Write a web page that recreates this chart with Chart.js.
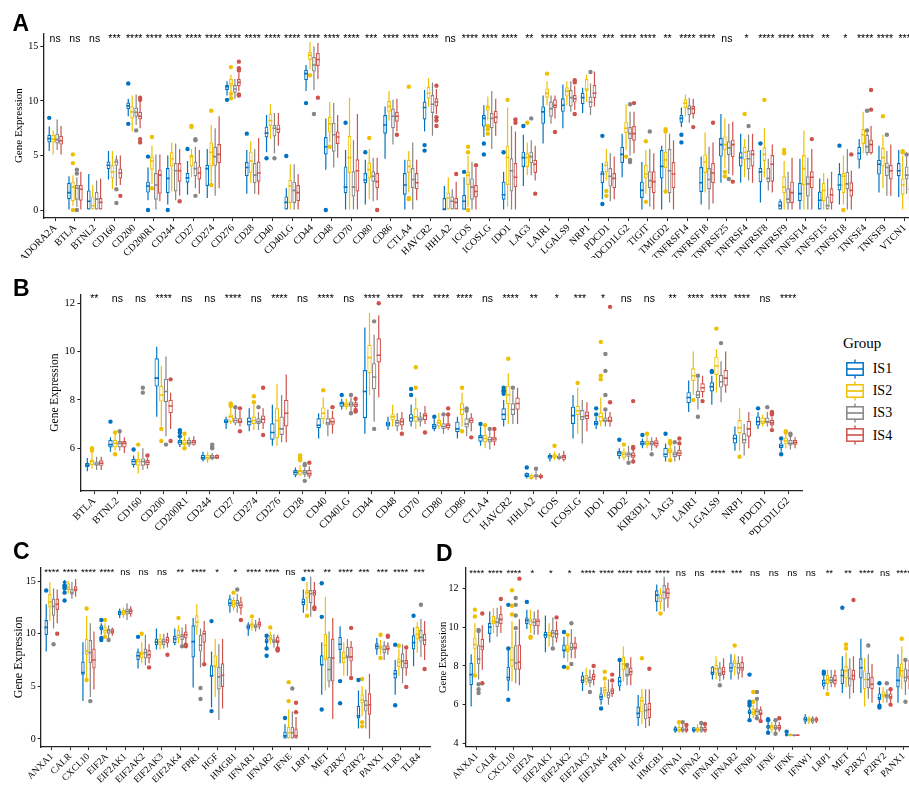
<!DOCTYPE html>
<html>
<head>
<meta charset="utf-8">
<script src="https://cdn.jsdelivr.net/npm/chart.js@4.4.1/dist/chart.umd.min.js"></script>
<style>
  html, body { margin: 0; padding: 0; background: #fff; }
  body { width: 909px; height: 786px; overflow: hidden; position: relative; }
  canvas { position: absolute; }
  .tag { position: absolute; font: bold 23px "Liberation Sans", Arial, sans-serif; line-height: 23px; color: #000; }
  .lg { position: absolute; font-family: "Liberation Serif", "Times New Roman", serif; color: #000; white-space: nowrap; }
</style>
</head>
<body>
<canvas id="cA" width="930" height="258" style="left:0;top:0"></canvas>
<canvas id="cB" width="815" height="275" style="left:0;top:260px"></canvas>
<canvas id="cC" width="440" height="251" style="left:0;top:535px"></canvas>
<canvas id="cD" width="490" height="251" style="left:430px;top:535px"></canvas>
<div class="tag" style="left:12.5px;top:12px">A</div>
<div class="tag" style="left:13px;top:277px">B</div>
<div class="tag" style="left:13px;top:540px">C</div>
<div class="tag" style="left:436px;top:542px">D</div>
<div id="legend"></div>
<script>
// ---------- groups ----------
const groups = ['IS1', 'IS2', 'IS3', 'IS4'];
const groupColors = ['#0073C2', '#EFC000', '#868686', '#CD534C'];

// ---------- panel A : immune checkpoint genes ----------
const catsA = ['ADORA2A','BTLA','BTNL2','CD160','CD200','CD200R1','CD244','CD27','CD274','CD276','CD28','CD40','CD40LG','CD44','CD48','CD70','CD80','CD86','CTLA4','HAVCR2','HHLA2','ICOS','ICOSLG','IDO1','LAG3','LAIR1','LGALS9','NRP1','PDCD1','PDCD1LG2','TIGIT','TMIGD2','TNFRSF14','TNFRSF18','TNFRSF25','TNFRSF4','TNFRSF8','TNFRSF9','TNFSF14','TNFSF15','TNFSF18','TNFSF4','TNFSF9','VTCN1'];
const sigA = ['ns','ns','ns','***','****','****','****','****','****','****','****','****','****','****','****','****','***','****','****','****','ns','****','****','****','**','****','****','****','***','****','****','**','****','****','ns','*','****','****','****','**','*','****','****','***'];
const yTicksA = [0, 5, 10, 15];
// box stats: [lower whisker, Q1, median, Q3, upper whisker]
const boxA_IS1 = [
  [5.4,6.2,6.55,6.9,7.65],[0,1.0,1.6,2.5,3.1],[0,0,0.8,1.8,3.3],[2.8,3.75,4.1,4.45,5.4],[8.6,9.25,9.55,9.85,10.2],
  [0.9,1.6,2.2,2.6,3.9],[0.5,1.55,2.9,3.85,5.0],[1.4,2.5,2.95,3.4,4.5],[1.1,2.2,3.8,4.15,5.6],[10.5,11.0,11.3,11.45,11.8],
  [1.5,3.1,3.9,4.4,5.5],[5.3,6.65,7.05,7.65,8.7],[0,0,0.7,1.25,2.0],[10.9,11.9,12.5,12.85,13.3],[3.7,5.1,5.8,6.7,8.4],
  [0,1.55,2.1,4.0,5.5],[0.5,2.45,2.75,3.4,4.6],[4.7,7.0,7.8,8.7,9.5],[0,1.4,2.3,3.4,4.6],[7.2,8.3,9.4,9.95,11.0],
  [0,0,0.05,1.1,2.2],[0,0.03,0.8,1.4,3.0],[6.7,7.65,8.4,8.7,9.6],[0,0.95,1.4,2.6,3.5],[2.2,3.95,4.8,5.35,6.9],
  [6.1,7.9,9.0,9.5,10.5],[7.5,9.0,9.6,10.25,11.5],[8.9,9.7,10.3,10.75,11.2],[1.0,2.45,3.3,3.55,4.3],[3.0,4.3,5.1,5.8,7.0],
  [0,1.1,1.8,2.6,4.4],[0,2.9,4.0,5.5,5.9],[7.6,8.0,8.4,8.7,9.4],[0.5,1.65,2.5,3.95,4.9],[2.5,4.9,6.0,6.6,8.8],
  [2.5,4.0,4.8,5.3,7.0],[0.7,2.55,3.5,3.85,5.5],[0,0,0.4,0.8,1.0],[0,0.8,1.5,2.5,4.7],[0,0,0.9,1.7,2.9],
  [0.5,1.8,2.3,3.3,4.3],[3.8,4.6,5.2,5.8,6.5],[1.6,3.25,4.2,4.6,5.9],[1.2,3.1,3.6,4.3,5.5]
];
const boxA_IS2 = [
  [5.1,6.2,6.5,6.9,7.3],[0.4,0.8,2.1,2.6,3.2],[0,0,0.4,1.25,2.3],[1.9,2.9,3.5,4.1,5.4],[7.2,8.4,9.0,9.5,10.5],
  [2.4,3.7,4.5,4.9,5.9],[1.7,4.0,4.7,5.3,6.2],[3.0,4.0,4.9,5.05,5.6],[2.5,4.0,5.3,6.2,7.8],[10.8,11.35,11.6,12.0,12.4],
  [2.5,3.4,4.5,5.35,6.3],[6.5,7.7,8.2,8.85,9.7],[0,0.65,2.2,2.75,4.2],[12.9,13.75,14.2,14.5,15.4],[6.2,7.1,7.9,8.55,9.9],
  [0,3.4,4.8,6.8,10.3],[1.0,2.9,3.7,4.35,5.6],[8.2,9.0,9.5,10.0,10.9],[1.6,3.4,4.0,4.6,5.4],[9.5,10.2,10.7,11.3,12.1],
  [0,0,1.1,1.6,3.0],[0.3,2.3,3.2,3.5,5.0],[8.2,9.1,9.4,9.6,10.4],[0.3,2.3,4.8,5.9,9.4],[3.2,3.95,4.8,5.2,6.2],
  [9.6,10.3,10.7,11.15,11.8],[9.6,10.4,10.9,11.25,11.8],[9.9,10.9,11.1,12.0,12.4],[2.7,3.45,4.1,4.45,5.6],[5.5,7.05,7.5,8.1,9.7],
  [1.5,2.9,3.3,4.15,5.5],[1.8,3.85,4.6,5.35,7.0],[8.6,9.35,9.8,10.15,10.6],[1.6,3.4,4.4,5.1,7.1],[3.8,5.5,6.0,6.75,8.4],
  [3.0,4.6,5.3,5.8,6.5],[3.0,4.5,5.1,5.75,7.5],[0,1.55,2.1,3.1,4.5],[0,2.3,3.8,5.05,7.3],[0,0.8,1.8,2.5,3.4],
  [0.5,1.55,3.1,3.4,5.0],[5.2,6.05,6.9,7.4,9.0],[2.0,4.0,4.8,5.7,6.9],[0,1.4,2.3,2.9,5.0]
];
const boxA_IS3 = [
  [5.5,6.1,6.45,7.0,8.3],[0.3,0.95,2.0,2.3,3.0],[0,0,1.0,1.65,2.7],[2.2,4.05,4.4,4.65,5.0],[7.8,8.55,8.95,9.4,10.6],
  [0,0.95,2.3,3.4,5.1],[0.9,1.7,3.6,4.3,6.1],[2.0,3.1,3.8,4.45,5.8],[1.3,4.05,4.9,5.8,7.5],[10.2,10.75,11.1,11.45,12.0],
  [1.5,2.45,3.2,4.3,5.6],[5.2,6.75,7.5,7.8,8.9],[0,0.65,1.8,2.6,4.2],[11.0,12.7,13.3,14.05,15.0],[3.9,5.35,6.9,8.0,9.8],
  [0,1.25,2.1,3.55,6.4],[0.8,2.6,3.1,3.55,4.8],[6.0,7.5,8.6,9.3,10.1],[0,2.0,2.8,3.85,6.2],[6.8,8.9,9.7,10.55,11.7],
  [0,0,0.8,1.25,1.9],[0,0.95,2.1,2.9,4.4],[5.6,7.5,8.4,8.9,10.9],[0,1.7,3.6,4.75,7.7],[3.2,4.3,4.9,5.35,6.4],
  [7.9,8.55,9.3,9.95,10.5],[9.0,9.5,10.3,11.0,11.8],[8.7,9.4,9.9,10.4,11.6],[0.8,2.15,3.1,3.85,5.2],[5.0,6.5,7.0,7.6,9.0],
  [0.3,2.0,2.7,3.55,5.6],[0.7,1.55,3.6,5.6,7.0],[8.0,8.7,9.3,9.6,10.3],[0,1.9,2.8,3.85,5.8],[3.3,5.05,5.7,6.3,7.9],
  [2.7,3.75,4.7,5.45,6.9],[1.8,2.55,2.9,3.85,4.7],[0,0.6,1.0,2.0,3.5],[0,1.25,2.4,3.1,4.8],[0,0,0.4,1.25,2.9],
  [0,1.9,2.4,3.5,5.6],[5.0,5.2,5.8,6.9,7.1],[1.3,3.1,3.9,4.35,5.4],[1.5,2.8,3.2,4.0,5.0]
];
const boxA_IS4 = [
  [5.1,6.0,6.35,6.8,7.7],[0,0.85,1.9,2.3,3.5],[0,0,0.7,1.1,2.9],[2.3,2.9,3.4,3.8,5.0],[7.5,8.3,8.6,9.0,10.0],
  [0.8,1.5,3.2,3.7,5.1],[1.3,2.6,3.6,4.3,5.6],[1.5,2.8,3.4,4.0,5.5],[2.0,4.3,5.1,6.05,8.6],[10.9,11.35,11.7,12.0,12.6],
  [1.4,2.6,3.4,4.45,6.6],[5.9,7.05,7.4,7.85,8.9],[0,0.8,1.6,2.3,3.3],[12.0,13.2,13.8,14.4,15.3],[4.8,6.05,6.7,7.2,8.7],
  [0,1.7,3.6,4.65,8.8],[0.9,2.0,2.6,3.4,4.8],[7.2,8.1,8.6,9.0,10.2],[0.9,1.9,2.5,3.4,4.6],[8.8,9.5,9.9,10.25,11.1],
  [0,0,0.7,1.1,2.6],[0,1.15,1.7,2.3,3.9],[6.8,7.95,8.5,9.1,10.2],[0,2.1,3.0,4.3,7.2],[2.7,3.4,4.2,4.6,5.9],
  [8.4,9.35,9.6,10.15,10.5],[9.2,9.85,10.2,10.55,11.4],[9.5,10.25,10.7,11.45,12.7],[1.0,2.0,2.9,3.4,4.9],[5.2,6.35,7.0,7.7,9.0],
  [0,1.55,2.6,3.55,5.2],[0,2.0,3.3,4.4,6.4],[8.4,8.8,9.3,9.55,10.2],[0.6,2.45,3.4,4.3,6.2],[3.2,4.85,6.0,6.45,8.1],
  [2.5,4.0,5.1,5.5,7.0],[1.6,2.6,4.2,5.05,6.0],[0,0.65,1.6,2.6,4.8],[0,2.0,3.0,3.55,5.6],[0,0.65,1.4,2.0,3.5],
  [0,1.25,1.8,2.55,3.6],[5.1,5.2,6.0,6.45,7.7],[1.3,2.8,3.6,4.15,6.0],[0.5,1.0,1.9,2.6,4.0]
];
// outlying samples: [gene, value]
const outA_IS1 = [['ADORA2A',8.45],['CD200',11.6],['CD200',7.9],['CD200R1',4.9],['CD200R1',0],['CD244',0],['CD27',5.6],['CD276',10.1],['CD28',7.0],['CD40',4.75],['CD40LG',4.95],['CD44',9.8],['CD48',0],['CD70',8.0],['CD80',5.3],['HAVCR2',5.95],['HAVCR2',5.45],['ICOS',3.5],['ICOSLG',6.1],['ICOSLG',5.1],['IDO1',5.3],['LAG3',7.7],['PDCD1',6.8],['PDCD1',0.55],['TNFRSF14',6.9],['TNFRSF14',6.2],['TNFRSF8',6.1],['TNFSF18',5.9]];
const outA_IS2 = [['BTLA',5.1],['BTLA',4.3],['BTLA',0],['CD200R1',6.7],['CD200R1',2.0],['CD27',7.7],['CD27',7.6],['CD274',9.1],['CD274',2.3],['CD276',13.1],['CD276',10.65],['CD276',10.25],['CD44',12.35],['CD48',5.8],['CD80',6.6],['CTLA4',11.3],['CTLA4',1.1],['CTLA4',1.0],['ICOS',5.8],['ICOS',5.3],['ICOS',0],['ICOSLG',7.7],['ICOSLG',7.4],['ICOSLG',7.0],['IDO1',10.1],['LAG3',8.0],['LAIR1',12.5],['PDCD1',1.75],['PDCD1',1.3],['PDCD1LG2',4.9],['TIGIT',6.3],['TIGIT',0.75],['TMIGD2',7.4],['TMIGD2',7.2],['TMIGD2',1.7],['TNFRSF25',3.5],['TNFRSF25',3.1],['TNFRSF4',8.8],['TNFRSF8',10.1],['TNFRSF9',5.5],['TNFRSF9',5.2],['TNFSF18',0],['TNFSF9',8.6],['VTCN1',5.4],['VTCN1',5.3]];
const outA_IS3 = [['BTLA',3.7],['BTLA',3.35],['BTLA',0],['CD160',1.9],['CD160',0.65],['CD200',7.3],['CD27',6.5],['CD27',6.4],['CD27',1.3],['CD40',4.75],['CD44',8.8],['LAG3',8.4],['NRP1',12.65],['PDCD1LG2',9.7],['PDCD1LG2',4.6],['PDCD1LG2',4.4],['TIGIT',7.2],['TNFRSF25',2.85],['TNFRSF4',7.7],['TNFSF4',9.1],['TNFSF4',7.3],['TNFSF9',6.9],['VTCN1',5.1]];
const outA_IS4 = [['CD160',1.3],['CD200',10.3],['CD200',10.1],['CD200',6.5],['CD200',6.2],['CD244',0.8],['CD276',13.6],['CD276',13.0],['CD276',12.8],['CD276',10.6],['CD276',10.5],['CD44',10.3],['CD80',0],['CD86',6.9],['HAVCR2',11.4],['HAVCR2',8.5],['HAVCR2',8.2],['HAVCR2',7.7],['HHLA2',3.3],['ICOS',4.1],['IDO1',8.3],['IDO1',8.0],['LAG3',1.5],['LAIR1',7.15],['LGALS9',11.9],['LGALS9',11.7],['LGALS9',8.8],['PDCD1LG2',9.8],['TNFRSF14',7.6],['TNFRSF18',8.0],['TNFRSF25',2.6],['TNFSF14',6.5],['TNFSF18',5.1],['TNFSF4',11.0],['TNFSF4',9.2]];

// ---------- panel B ----------
const catsB = ['BTLA','BTNL2','CD160','CD200','CD200R1','CD244','CD27','CD274','CD276','CD28','CD40','CD40LG','CD44','CD48','CD70','CD80','CD86','CTLA4','HAVCR2','HHLA2','ICOS','ICOSLG','IDO1','IDO2','KIR3DL1','LAG3','LAIR1','LGALS9','NRP1','PDCD1','PDCD1LG2'];
const sigB = ['**','ns','ns','****','ns','ns','****','ns','****','ns','****','ns','****','****','***','****','****','ns','****','**','*','***','*','ns','ns','**','****','****','****','ns','****'];
const yTicksB = [6, 8, 10, 12];
const boxB_IS1 = [
  [5.05,5.22,5.3,5.4,5.6],[5.85,6.03,6.15,6.34,6.45],[5.2,5.31,5.45,5.56,5.7],[7.3,8.55,8.9,9.72,10.2],[6.05,6.14,6.25,6.34,6.45],
  [5.45,5.52,5.6,5.72,5.85],[6.8,7.03,7.1,7.2,7.3],[6.7,6.94,7.1,7.27,7.65],[6.1,6.35,6.65,7.03,7.8],[4.8,4.87,5.0,5.1,5.2],
  [6.4,6.83,6.95,7.24,7.45],[7.6,7.72,7.85,7.93,8.05],[6.6,7.24,8.35,9.24,11.0],[6.75,6.9,7.0,7.1,7.3],[6.9,7.1,7.25,7.41,7.8],
  [6.7,6.8,6.9,7.0,7.2],[6.4,6.66,6.8,7.1,7.3],[6.1,6.27,6.45,6.55,6.9],[6.9,7.17,7.4,7.65,8.0],[4.75,4.8,4.88,4.97,5.0],
  [5.45,5.56,5.65,5.72,5.8],[6.4,7.0,7.35,7.72,8.2],[6.8,6.94,7.03,7.13,7.3],[5.55,5.68,5.8,5.89,6.0],[6.0,6.11,6.2,6.31,6.4],
  [5.45,5.62,5.75,6.02,6.2],[7.5,7.86,8.1,8.32,8.8],[7.8,8.35,8.55,8.73,9.0],[5.9,6.2,6.4,6.57,6.9],[6.8,6.94,7.1,7.31,7.5],
  [5.85,6.0,6.1,6.2,6.3]
];
const boxB_IS2 = [
  [5.15,5.31,5.45,5.52,5.8],[5.9,6.03,6.2,6.34,6.6],[4.95,5.28,5.45,5.56,5.85],[6.9,7.93,8.2,8.58,9.4],[6.05,6.11,6.2,6.34,6.5],
  [5.4,5.52,5.6,5.72,5.85],[7.0,7.1,7.3,7.4,7.7],[6.75,7.0,7.15,7.31,7.8],[6.1,6.41,7.15,7.65,8.65],[4.85,4.9,5.05,5.1,5.3],
  [7.0,7.2,7.45,7.69,8.1],[7.6,7.7,7.8,7.9,8.05],[8.2,9.1,9.75,10.28,11.6],[6.9,7.15,7.3,7.41,7.8],[6.8,7.1,7.3,7.65,8.1],
  [6.8,6.9,7.05,7.17,7.45],[6.9,7.38,7.6,7.86,8.3],[6.0,6.24,6.4,6.55,6.9],[7.0,7.82,8.2,8.59,9.1],[4.7,4.73,4.8,4.9,4.95],
  [5.5,5.59,5.68,5.75,5.85],[6.6,7.38,7.55,7.76,8.5],[6.9,7.1,7.3,7.48,8.1],[5.5,5.61,5.75,5.86,6.0],[6.0,6.11,6.2,6.31,6.5],
  [5.55,5.79,5.9,6.0,6.15],[8.2,8.78,9.0,9.31,10.0],[8.3,9.03,9.4,9.79,10.1],[5.9,6.62,6.85,7.17,7.65],[6.9,7.0,7.1,7.27,7.4],
  [6.0,6.16,6.3,6.44,6.6]
];
const boxB_IS3 = [
  [5.1,5.27,5.35,5.45,5.65],[5.9,6.03,6.2,6.3,6.65],[5.1,5.28,5.45,5.58,6.0],[6.5,7.9,8.35,8.87,9.8],[6.05,6.14,6.22,6.34,6.45],
  [5.5,5.55,5.62,5.72,5.8],[6.95,7.03,7.15,7.27,7.65],[6.75,7.0,7.1,7.24,7.5],[6.25,6.55,6.8,7.31,8.2],[4.8,4.9,5.0,5.1,5.2],
  [6.5,6.94,7.05,7.24,7.6],[7.5,7.72,7.82,7.93,8.1],[7.1,8.44,8.95,9.52,10.7],[6.7,6.9,7.05,7.17,7.45],[6.9,7.1,7.2,7.31,7.5],
  [6.6,6.8,6.9,7.03,7.3],[6.5,6.86,7.0,7.24,7.45],[5.95,6.24,6.35,6.48,6.75],[7.0,7.38,7.6,7.86,8.4],[4.7,4.8,4.85,4.92,5.05],
  [5.5,5.55,5.62,5.7,5.8],[6.2,7.17,7.3,7.58,8.0],[6.9,7.07,7.15,7.27,7.5],[5.5,5.65,5.75,5.83,6.1],[5.9,6.11,6.2,6.31,6.45],
  [5.45,5.64,5.75,5.86,6.1],[7.6,8.07,8.2,8.38,8.9],[7.9,8.51,8.75,9.03,9.6],[5.7,6.2,6.35,6.62,7.0],[6.9,7.03,7.1,7.27,7.5],
  [5.95,6.11,6.2,6.34,6.5]
];
const boxB_IS4 = [
  [5.1,5.27,5.38,5.5,5.65],[5.8,6.03,6.2,6.3,6.45],[5.15,5.31,5.42,5.52,5.6],[6.8,7.45,7.75,8.0,8.3],[6.1,6.14,6.25,6.34,6.5],
  [5.55,5.56,5.62,5.72,5.75],[6.9,7.03,7.1,7.24,7.55],[6.8,7.03,7.2,7.35,7.65],[6.25,6.9,7.45,8.0,9.05],[4.75,4.83,4.95,5.1,5.25],
  [6.6,6.97,7.1,7.27,7.55],[7.65,7.7,7.8,7.9,8.0],[8.1,9.55,9.85,10.55,11.5],[6.75,6.94,7.1,7.24,7.5],[7.0,7.17,7.35,7.45,7.75],
  [6.75,6.83,6.95,7.03,7.35],[6.7,7.03,7.15,7.27,7.45],[6.1,6.27,6.38,6.48,6.75],[7.0,7.59,7.85,8.1,8.5],[4.72,4.76,4.84,4.9,4.95],
  [5.45,5.52,5.63,5.72,5.9],[6.7,7.2,7.35,7.52,7.9],[6.9,7.07,7.15,7.31,7.5],[5.5,5.61,5.7,5.82,5.95],[6.0,6.07,6.2,6.33,6.45],
  [5.5,5.68,5.8,5.93,6.1],[8.1,8.32,8.5,8.69,9.0],[8.3,8.59,8.9,9.24,10.0],[6.0,6.48,6.8,7.13,7.5],[6.85,6.94,7.05,7.17,7.3],
  [6.0,6.14,6.23,6.34,6.45]
];
const outB_IS1 = [['BTNL2',7.1],['CD160',5.95],['CD200R1',6.75],['CD200R1',6.65],['CD200R1',6.5],['CD40LG',8.2],['CD70',8.45],['CD70',8.2],['CD80',7.3],['CTLA4',7.0],['HAVCR2',8.5],['HAVCR2',8.4],['HAVCR2',8.35],['HAVCR2',8.25],['HHLA2',5.2],['IDO1',7.65],['IDO1',7.4],['IDO2',6.35],['KIR3DL1',6.55],['LAG3',6.6],['LGALS9',9.2],['LGALS9',9.15],['PDCD1',7.65],['PDCD1LG2',6.4],['PDCD1LG2',5.75]];
const outB_IS2 = [['BTLA',6.0],['BTLA',5.95],['BTLA',5.9],['BTNL2',6.65],['BTNL2',5.75],['CD160',6.15],['CD200',6.8],['CD200',6.3],['CD200R1',6.6],['CD200R1',6.0],['CD27',7.85],['CD27',7.8],['CD27',7.75],['CD274',8.15],['CD274',7.9],['CD28',5.7],['CD28',5.6],['CD28',5.55],['CD28',5.5],['CD40',8.4],['CD70',9.35],['CD70',8.5],['CD86',8.5],['CD86',6.7],['CTLA4',6.95],['HAVCR2',9.7],['ICOS',6.1],['ICOSLG',8.7],['IDO1',10.4],['IDO1',9.0],['IDO1',8.85],['IDO2',6.15],['KIR3DL1',6.6],['LAG3',6.3],['LAG3',6.25],['LAG3',6.2],['LAG3',5.5],['LAIR1',8.0],['LGALS9',10.95],['NRP1',5.65],['PDCD1LG2',6.7],['PDCD1LG2',6.65]];
const outB_IS3 = [['BTNL2',6.7],['CD160',8.5],['CD160',8.3],['CD200',6.15],['CD244',6.15],['CD244',6.05],['CD244',6.0],['CD27',7.7],['CD274',7.7],['CD28',5.35],['CD28',5.3],['CD28',4.65],['CD40LG',8.2],['CD40LG',7.45],['CD44',11.25],['CD44',6.8],['CD80',7.4],['CD86',7.65],['CD86',7.55],['CTLA4',6.8],['HAVCR2',8.5],['HHLA2',5.15],['IDO1',9.9],['IDO1',9.2],['IDO1',8.2],['IDO1',7.6],['IDO2',5.4],['KIR3DL1',5.75],['LAG3',6.25],['LAIR1',9.0],['LAIR1',7.3],['LGALS9',10.35],['PDCD1',7.7],['PDCD1LG2',6.6],['PDCD1LG2',6.55]];
const outB_IS4 = [['CD160',5.7],['CD200',8.85],['CD200',6.3],['CD27',7.65],['CD27',6.7],['CD274',8.5],['CD274',6.55],['CD28',5.4],['CD40',7.7],['CD40LG',8.05],['CD40LG',7.58],['CD40LG',7.52],['CD44',12.0],['CD48',6.6],['CD70',6.65],['CD80',7.65],['CD80',7.4],['CD86',6.45],['CTLA4',6.8],['IDO1',11.85],['IDO1',7.9],['IDO2',7.95],['IDO2',6.05],['IDO2',6.0],['IDO2',5.45],['LAG3',6.4],['LAG3',6.2],['LAIR1',7.95],['PDCD1',7.5],['PDCD1',7.45],['PDCD1',7.4],['PDCD1',6.75]];

// ---------- panel C ----------
const catsC = ['ANXA1','CALR','CXCL10','EIF2A','EIF2AK1','EIF2AK2','EIF2AK3','EIF2AK4','FPR1','HGF','HMGB1','IFNAR1','IFNAR2','IFNE','LRP1','MET','P2RX7','P2RY2','PANX1','TLR3','TLR4'];
const sigC = ['****','****','****','****','ns','ns','ns','**','****','*','*','****','****','ns','***','**','****','***','***','****','***'];
const yTicksC = [0, 5, 10, 15];
const boxC_IS1 = [
  [8.3,9.87,10.6,11.3,12.8],[14.7,14.8,14.9,15.0,15.1],[3.6,6.1,6.3,7.35,9.2],[9.9,10.35,10.55,10.8,11.0],[11.5,11.75,12.0,12.2,12.4],
  [6.7,7.5,7.9,8.3,8.6],[8.5,8.9,9.2,9.55,10.5],[8.9,9.1,9.5,9.8,10.5],[4.9,7.75,9.25,10.8,11.5],[3.0,5.95,6.0,7.0,8.3],
  [12.0,12.6,12.9,13.35,13.7],[9.8,10.4,10.65,10.9,11.1],[8.5,9.1,9.3,9.55,9.7],[0,0,0.3,0.7,1.4],[12.0,12.7,13.0,13.35,14.2],
  [4.2,7.0,7.05,7.95,9.2],[7.2,8.45,9.0,9.7,10.7],[1.0,1.95,2.2,3.15,4.6],[8.0,8.5,8.8,9.1,9.6],[4.2,5.75,6.2,6.55,7.5],
  [6.9,8.5,9.15,9.85,10.6]
];
const boxC_IS2 = [
  [11.2,12.5,13.0,13.8,14.9],[13.8,14.15,14.4,14.8,15.0],[5.8,8.0,8.35,9.55,11.7],[9.8,10.0,10.3,10.65,11.0],[11.5,11.75,12.0,12.25,12.5],
  [7.2,7.65,8.1,8.3,9.2],[8.5,8.9,9.2,9.55,10.0],[9.1,9.55,9.85,10.35,10.8],[9.9,10.6,11.1,11.75,12.8],[4.0,6.85,6.9,7.95,9.5],
  [12.2,12.5,12.8,13.2,13.5],[10.3,10.6,10.85,11.05,11.4],[9.0,9.4,9.6,9.9,10.2],[0,0,0.6,1.15,2.8],[12.2,13.35,13.9,14.15,14.9],
  [4.6,7.5,8.9,10.0,13.5],[6.0,7.2,7.7,8.3,9.2],[2.2,3.4,3.7,4.25,5.0],[8.0,8.5,8.7,8.9,9.4],[6.0,6.85,7.3,7.65,8.6],
  [8.2,9.45,9.95,10.65,11.1]
];
const boxC_IS3 = [
  [10.5,11.7,12.6,13.35,14.3],[13.3,13.7,13.9,14.25,14.9],[4.0,7.2,8.2,9.4,11.0],[9.6,10.0,10.3,10.5,10.8],[11.3,11.8,12.1,12.4,12.9],
  [7.0,7.65,8.2,8.6,9.9],[8.6,8.9,9.25,9.55,10.0],[8.9,9.4,9.75,10.0,10.6],[6.8,8.3,8.9,9.9,10.5],[1.8,4.7,5.9,6.85,9.0],
  [12.0,12.6,12.9,13.2,13.8],[10.2,10.5,10.7,10.9,11.3],[8.7,9.1,9.3,9.55,9.95],[0,0,0.6,1.15,2.6],[11.6,12.9,13.8,14.15,15.4],
  [4.9,5.45,6.6,7.8,10.2],[6.0,7.65,7.85,8.75,9.5],[1.0,2.6,3.2,3.7,4.7],[7.5,8.15,8.5,8.9,9.3],[5.3,6.7,7.4,8.15,9.0],
  [7.8,9.25,9.65,10.35,11.4]
];
const boxC_IS4 = [
  [11.0,12.25,12.8,13.35,14.2],[13.5,14.0,14.2,14.5,15.2],[4.7,6.7,7.5,8.6,10.2],[9.8,10.0,10.2,10.45,10.6],[11.6,11.85,12.15,12.4,12.6],
  [7.2,7.65,8.0,8.45,9.0],[8.7,9.1,9.4,9.7,10.1],[9.0,9.55,9.9,10.2,10.9],[7.3,9.15,10.0,10.3,11.2],[2.9,4.95,6.05,7.2,9.5],
  [11.8,12.4,12.7,13.05,13.5],[10.4,10.65,10.9,11.15,11.5],[8.7,9.1,9.3,9.7,9.9],[0,0,0.3,1.0,2.1],[12.6,13.6,13.9,14.15,14.9],
  [1.9,5.45,7.7,9.55,11.5],[6.0,7.35,7.8,8.75,9.3],[0,2.3,3.25,4.35,6.2],[8.0,8.45,8.6,8.9,9.2],[6.0,6.7,7.2,7.5,8.5],
  [7.5,8.9,9.4,10.0,11.2]
];
const outC_IS1 = [['ANXA1',14.1],['CALR',14.6],['CALR',14.45],['CALR',14.3],['CALR',13.9],['CALR',13.15],['EIF2A',11.3],['EIF2A',9.6],['EIF2A',9.4],['EIF2AK2',9.7],['HGF',11.2],['HGF',2.65],['IFNAR2',9.8],['IFNAR2',8.6],['IFNAR2',7.9],['IFNE',2.0],['LRP1',15.2],['MET',14.8],['MET',11.6],['MET',2.8],['P2RX7',5.5],['P2RX7',3.4],['P2RY2',5.6],['TLR3',8.95],['TLR3',3.2],['TLR4',11.7]];
const outC_IS2 = [['CXCL10',12.4],['CXCL10',5.6],['EIF2A',11.3],['EIF2A',9.7],['EIF2AK2',10.0],['EIF2AK4',11.5],['HMGB1',13.9],['IFNAR1',11.65],['IFNAR2',10.6],['IFNE',5.4],['IFNE',3.6],['LRP1',11.7],['P2RY2',5.7],['P2RY2',1.6],['P2RY2',1.2],['PANX1',9.9],['PANX1',7.7],['TLR3',8.85]];
const outC_IS3 = [['ANXA1',9.0],['CXCL10',3.6],['EIF2A',9.4],['EIF2AK4',8.8],['FPR1',4.85],['FPR1',3.8],['HMGB1',14.2],['IFNE',4.8],['TLR4',12.75]];
const outC_IS4 = [['ANXA1',10.0],['EIF2AK2',6.8],['EIF2AK3',8.0],['EIF2AK4',8.8],['EIF2AK4',8.95],['FPR1',7.1],['HMGB1',11.3],['IFNAR2',8.6],['IFNAR2',8.5],['IFNAR2',8.4],['IFNE',3.45],['IFNE',2.55],['LRP1',12.5],['LRP1',12.35],['P2RX7',10.55],['P2RX7',5.8],['PANX1',9.8],['PANX1',9.7],['TLR3',8.7],['TLR3',4.95],['TLR4',6.65]];

// ---------- panel D ----------
const catsD = ['ANXA1','CALR','CXCL10','EIF2A','EIF2AK1','EIF2AK2','EIF2AK3','EIF2AK4','FPR1','HGF','HMGB1','IFNA1','IFNA2','IFNAR1','IFNAR2','IFNB1','IFNE','IFNK','IFNW1','LRP1','MET','P2RX7','P2RY2','PANX1'];
const sigD = ['****','****','****','*','*','*','****','****','****','****','****','ns','ns','****','***','ns','ns','ns','ns','**','**','****','ns','****'];
const yTicksD = [4, 6, 8, 10, 12];
const boxD_IS1 = [
  [5.9,7.0,7.55,8.16,8.6],[9.2,9.65,10.0,10.22,10.8],[6.7,7.23,7.4,7.96,8.8],[9.9,10.16,10.35,10.5,10.9],[8.7,9.42,9.6,9.76,10.6],
  [8.4,8.75,8.8,9.1,9.5],[6.7,7.1,7.25,7.5,7.7],[6.0,6.24,6.4,6.58,6.9],[6.7,6.93,7.2,7.44,8.2],[4.9,5.3,5.55,5.9,6.5],
  [10.8,11.3,11.65,11.9,12.2],[4.55,4.6,4.72,4.83,4.9],[4.55,4.6,4.7,4.83,4.85],[7.3,7.53,7.65,7.96,8.0],[7.3,7.7,7.9,8.18,8.6],
  [5.3,5.5,5.6,5.75,5.85],[4.65,4.75,4.85,4.95,5.1],[4.35,4.4,4.45,4.5,4.52],[5.0,5.12,5.25,5.38,5.5],[6.8,6.93,7.1,7.3,7.5],
  [6.6,7.06,7.5,7.82,8.5],[6.6,7.35,7.9,8.39,9.4],[6.0,6.24,6.35,6.58,6.9],[6.1,6.89,7.25,7.96,8.6]
];
const boxD_IS2 = [
  [7.6,8.85,9.1,9.47,10.2],[9.7,10.16,10.3,10.57,11.0],[7.2,7.96,8.3,8.99,10.3],[9.7,10.1,10.3,10.45,10.9],[9.0,9.47,9.6,9.76,10.2],
  [8.2,8.7,8.85,9.1,9.5],[7.0,7.15,7.35,7.53,7.9],[6.4,6.58,6.75,6.92,7.2],[7.2,7.78,8.1,8.47,9.0],[5.0,5.6,6.2,6.4,6.8],
  [10.9,11.28,11.5,11.7,12.0],[4.55,4.6,4.7,4.86,5.0],[4.55,4.6,4.7,4.83,5.0],[7.3,7.6,7.85,8.04,8.5],[7.5,7.92,8.15,8.3,8.6],
  [5.3,5.46,5.6,5.8,6.0],[4.55,4.7,4.85,4.95,5.1],[4.35,4.38,4.45,4.5,4.52],[5.0,5.12,5.22,5.34,5.4],[6.7,7.06,7.3,7.53,7.8],
  [6.9,7.35,7.75,7.99,8.7],[5.9,6.8,7.3,7.78,8.4],[6.1,6.37,6.5,6.67,6.9],[6.8,7.44,7.75,8.13,9.0]
];
const boxD_IS3 = [
  [7.3,8.08,8.35,9.07,9.7],[9.5,10.0,10.25,10.5,11.0],[7.1,7.8,8.15,9.07,9.8],[9.6,10.05,10.25,10.45,10.8],[9.0,9.47,9.7,9.85,10.5],
  [8.4,8.8,8.95,9.2,9.9],[6.9,7.1,7.25,7.44,7.8],[6.0,6.32,6.5,6.67,7.3],[7.0,7.44,7.55,7.96,8.0],[4.8,5.24,5.7,6.06,6.8],
  [10.8,11.43,11.8,12.17,12.6],[4.55,4.6,4.7,4.83,5.0],[4.55,4.6,4.72,4.86,5.0],[7.2,7.48,7.6,7.92,8.2],[7.3,7.6,7.9,8.16,8.5],
  [5.35,5.41,5.65,5.8,6.2],[4.55,4.7,4.8,4.95,5.1],[4.35,4.38,4.42,4.46,4.48],[5.0,5.07,5.2,5.34,5.4],[6.9,7.1,7.25,7.44,7.8],
  [6.3,6.93,7.35,7.87,8.4],[6.3,6.85,7.3,7.65,8.6],[6.1,6.32,6.45,6.58,6.8],[6.5,7.18,7.4,7.87,8.2]
];
const boxD_IS4 = [
  [7.8,8.8,9.0,9.4,10.1],[9.7,10.15,10.4,10.68,11.1],[7.0,7.8,8.2,9.1,10.4],[9.6,10.05,10.3,10.45,10.9],[9.2,9.42,9.65,9.85,10.3],
  [8.4,8.85,8.95,9.2,9.5],[7.0,7.27,7.45,7.6,7.8],[6.4,6.55,6.7,6.84,7.1],[7.0,7.5,7.7,7.92,8.45],[4.9,5.3,5.75,6.1,6.8],
  [11.0,11.48,11.75,12.0,12.3],[4.55,4.6,4.7,4.83,4.85],[4.55,4.6,4.7,4.86,4.9],[7.3,7.53,7.7,7.96,8.4],[7.4,7.75,7.9,8.2,8.5],
  [5.25,5.46,5.55,5.75,5.9],[4.6,4.7,4.8,4.95,5.1],[4.38,4.39,4.42,4.46,4.47],[5.05,5.12,5.22,5.34,5.38],[6.9,7.06,7.25,7.53,7.8],
  [6.6,7.25,7.5,7.8,8.5],[6.1,6.8,7.05,7.44,8.1],[6.1,6.27,6.4,6.58,6.75],[6.8,7.3,7.45,7.8,8.3]
];
const outD_IS1 = [['CXCL10',11.15],['CXCL10',8.9],['CXCL10',6.25],['EIF2A',11.3],['EIF2AK2',9.75],['EIF2AK2',7.95],['EIF2AK4',5.8],['FPR1',8.3],['IFNB1',7.55],['IFNB1',6.15],['IFNB1',6.05],['IFNB1',5.95],['IFNB1',5.2],['IFNE',5.25],['IFNE',5.2],['IFNE',4.55],['IFNK',4.6],['LRP1',7.7],['LRP1',7.6],['MET',11.0],['P2RY2',7.1],['P2RY2',5.95],['P2RY2',5.85]];
const outD_IS2 = [['ANXA1',10.9],['ANXA1',10.55],['ANXA1',7.5],['CXCL10',11.9],['CXCL10',11.1],['CXCL10',10.65],['EIF2A',9.5],['EIF2A',9.45],['EIF2AK2',9.6],['EIF2AK2',7.9],['EIF2AK4',7.7],['EIF2AK4',7.35],['HGF',8.4],['HMGB1',10.7],['IFNA1',5.1],['IFNAR2',9.05],['IFNB1',6.65],['IFNB1',6.15],['LRP1',6.55],['MET',9.1],['MET',8.9],['PANX1',9.4]];
const outD_IS3 = [['ANXA1',9.85],['ANXA1',9.8],['ANXA1',7.05],['ANXA1',6.8],['ANXA1',6.6],['CXCL10',11.5],['CXCL10',11.15],['CXCL10',10.6],['CXCL10',9.95],['EIF2AK1',8.9],['EIF2AK2',10.2],['EIF2AK2',8.1],['EIF2AK3',6.65],['FPR1',8.05],['IFNA1',5.1],['IFNA2',5.05],['IFNAR1',7.0],['IFNB1',6.65],['IFNB1',6.3],['IFNB1',5.3],['IFNE',5.2],['IFNE',4.5],['P2RX7',9.05],['P2RY2',7.1],['PANX1',8.3],['PANX1',6.15]];
const outD_IS4 = [['ANXA1',10.7],['ANXA1',7.1],['CALR',11.45],['CXCL10',12.5],['EIF2AK1',10.5],['EIF2AK3',8.0],['EIF2AK4',7.55],['EIF2AK4',7.25],['HGF',7.85],['IFNA1',4.95],['IFNA2',5.0],['IFNB1',5.15],['IFNE',5.3],['MET',11.4],['P2RY2',6.8],['P2RY2',6.0]];

// ---------- drawing ----------
const serif = '"Liberation Serif", "Times New Roman", serif';
const sans = '"Liberation Sans", Arial, sans-serif';
const dodge = [-0.3, -0.1, 0.1, 0.3];

// significance stars written along the top of each panel
const sigPlugin = {
  id: 'sigLabels',
  afterDatasetsDraw(chart, args, opts) {
    if (!opts.labels) return;
    const { ctx, scales: { x, y } } = chart;
    ctx.save();
    ctx.font = opts.size + 'px ' + sans;
    ctx.fillStyle = '#000';
    ctx.textAlign = 'center';
    ctx.textBaseline = 'alphabetic';
    opts.labels.forEach((t, i) => ctx.fillText(t, x.getPixelForValue(i), y.getPixelForValue(opts.y)));
    ctx.restore();
  }
};

function medianRadius(c) {
  const xs = c.chart.scales.x;
  return 0.095 * Math.abs(xs.getPixelForValue(1) - xs.getPixelForValue(0));
}

function makePanel(id, p) {
  const datasets = [];
  groups.forEach((g, gi) => {
    const col = groupColors[gi];
    const stats = p.boxes[gi];
    const pos = i => i + dodge[gi];
    const barCommon = { grouped: false, categoryPercentage: 1, barPercentage: 0.95 };
    datasets.push(Object.assign({
      type: 'bar', label: g + ' whiskers', order: 4,
      data: stats.map((s, i) => ({ x: pos(i), y: [s[0], s[4]] })),
      backgroundColor: col, borderWidth: 0, maxBarThickness: 1.2
    }, barCommon));
    datasets.push(Object.assign({
      type: 'bar', label: g, order: 3,
      data: stats.map((s, i) => ({ x: pos(i), y: [s[1], s[3]] })),
      backgroundColor: '#ffffff', borderColor: col, borderWidth: 1.2, borderSkipped: false
    }, barCommon));
    datasets.push({
      type: 'scatter', label: g + ' median', order: 2,
      data: stats.map((s, i) => ({ x: pos(i), y: s[2] })),
      pointStyle: 'line', pointRadius: medianRadius,
      pointBorderColor: col, pointBorderWidth: 1.6, borderColor: col
    });
    datasets.push({
      type: 'scatter', label: g + ' outliers', order: 1,
      data: p.outs[gi].map(([c, v]) => ({ x: pos(p.cats.indexOf(c)), y: v })),
      pointStyle: 'circle', pointRadius: 2.2,
      pointBackgroundColor: col, pointBorderWidth: 0, backgroundColor: col
    });
  });

  const axisLine = { display: true, color: '#222', width: 1.3 };
  const tickGrid = { display: true, drawOnChartArea: false, drawTicks: true, tickLength: 3, tickColor: '#222', lineWidth: 1, offset: false };

  return new Chart(document.getElementById(id), {
    type: 'bar',
    data: { datasets },
    plugins: [sigPlugin],
    options: {
      responsive: false, animation: false, events: [], devicePixelRatio: 1,
      layout: { padding: { left: 0, top: p.top, right: p.right, bottom: 0 } },
      plugins: {
        legend: { display: false }, tooltip: { enabled: false },
        sigLabels: { labels: p.sig, y: p.sigY, size: p.sigSize }
      },
      scales: {
        x: {
          type: 'linear', min: -0.6, max: p.cats.length - 0.4, offset: false, bounds: 'data',
          afterBuildTicks: s => { s.ticks = p.cats.map((_, i) => ({ value: i })); },
          afterFit: s => { s.height = p.xAxisH; },
          ticks: {
            autoSkip: false, minRotation: 45, maxRotation: 45, padding: 1, color: '#000',
            font: { family: serif, size: p.xTick },
            callback: v => p.cats[Math.round(v)]
          },
          grid: tickGrid, border: axisLine
        },
        y: {
          type: 'linear', min: p.yMin, max: p.yMax, bounds: 'data', beginAtZero: false,
          afterBuildTicks: s => { s.ticks = p.yTicks.map(v => ({ value: v })); },
          afterFit: s => { s.width = p.yAxisW; },
          ticks: { padding: p.yPad, color: '#000', font: { family: serif, size: p.yTick } },
          grid: tickGrid, border: axisLine,
          title: {
            display: true, text: 'Gene Expression', color: '#000',
            font: { family: serif, size: p.titleSize }, padding: { top: p.titlePad, bottom: 0 }
          }
        }
      }
    }
  });
}

makePanel('cA', {
  cats: catsA, sig: sigA, yTicks: yTicksA,
  boxes: [boxA_IS1, boxA_IS2, boxA_IS3, boxA_IS4], outs: [outA_IS1, outA_IS2, outA_IS3, outA_IS4],
  yMin: -0.73, yMax: 16.2, top: 33.3, right: 13.5, yAxisW: 43.3, xAxisH: 40,
  xTick: 10, yTick: 10, yPad: 2, titleSize: 11, titlePad: 12.4, sigY: 15.42, sigSize: 10.5
});
makePanel('cB', {
  cats: catsB, sig: sigB, yTicks: yTicksB,
  boxes: [boxB_IS1, boxB_IS2, boxB_IS3, boxB_IS4], outs: [outB_IS1, outB_IS2, outB_IS3, outB_IS4],
  yMin: 4.23, yMax: 12.37, top: 34.3, right: 13, yAxisW: 80.4, xAxisH: 44,
  xTick: 10.5, yTick: 10.5, yPad: 2.5, titleSize: 11.5, titlePad: 48, sigY: 12.05, sigSize: 10.5
});
makePanel('cC', {
  cats: catsC, sig: sigC, yTicks: yTicksC,
  boxes: [boxC_IS1, boxC_IS2, boxC_IS3, boxC_IS4], outs: [outC_IS1, outC_IS2, outC_IS3, outC_IS4],
  yMin: -0.76, yMax: 16.27, top: 32.7, right: 9.9, yAxisW: 40.7, xAxisH: 39,
  xTick: 9.5, yTick: 10, yPad: 2, titleSize: 12, titlePad: 12, sigY: 15.53, sigSize: 9.5
});
makePanel('cD', {
  cats: catsD, sig: sigD, yTicks: yTicksD,
  boxes: [boxD_IS1, boxD_IS2, boxD_IS3, boxD_IS4], outs: [outD_IS1, outD_IS2, outD_IS3, outD_IS4],
  yMin: 3.83, yMax: 13.05, top: 33, right: 5.3, yAxisW: 35.6, xAxisH: 39.3,
  xTick: 9.5, yTick: 10, yPad: 4, titleSize: 10.5, titlePad: 6.5, sigY: 12.66, sigSize: 9.5
});

// ---------- group legend ----------
(function buildLegend() {
  const host = document.getElementById('legend');
  const title = document.createElement('div');
  title.className = 'lg';
  title.style.cssText = 'left:843px;top:335.8px;font-size:15px;line-height:15px;';
  title.textContent = 'Group';
  host.appendChild(title);
  groups.forEach((g, i) => {
    const cy = 368.7 + i * 22.2;
    const svgNS = 'http://www.w3.org/2000/svg';
    const svg = document.createElementNS(svgNS, 'svg');
    svg.setAttribute('width', '22'); svg.setAttribute('height', '22');
    svg.style.cssText = 'position:absolute;left:843.5px;top:' + (cy - 11) + 'px;';
    const col = groupColors[i];
    svg.innerHTML =
      '<line x1="11" y1="1.5" x2="11" y2="4.8" stroke="' + col + '" stroke-width="1.4"/>' +
      '<line x1="11" y1="17.2" x2="11" y2="20.5" stroke="' + col + '" stroke-width="1.4"/>' +
      '<rect x="2.8" y="4.8" width="16.4" height="12.4" fill="#fff" stroke="' + col + '" stroke-width="1.5"/>' +
      '<line x1="2.8" y1="11" x2="19.2" y2="11" stroke="' + col + '" stroke-width="1.6"/>';
    host.appendChild(svg);
    const t = document.createElement('div');
    t.className = 'lg';
    t.style.cssText = 'left:872.7px;top:' + (cy + 5 - 11.7) + 'px;font-size:14px;line-height:14px;';
    t.textContent = g;
    host.appendChild(t);
  });
})();
</script>
</body>
</html>
